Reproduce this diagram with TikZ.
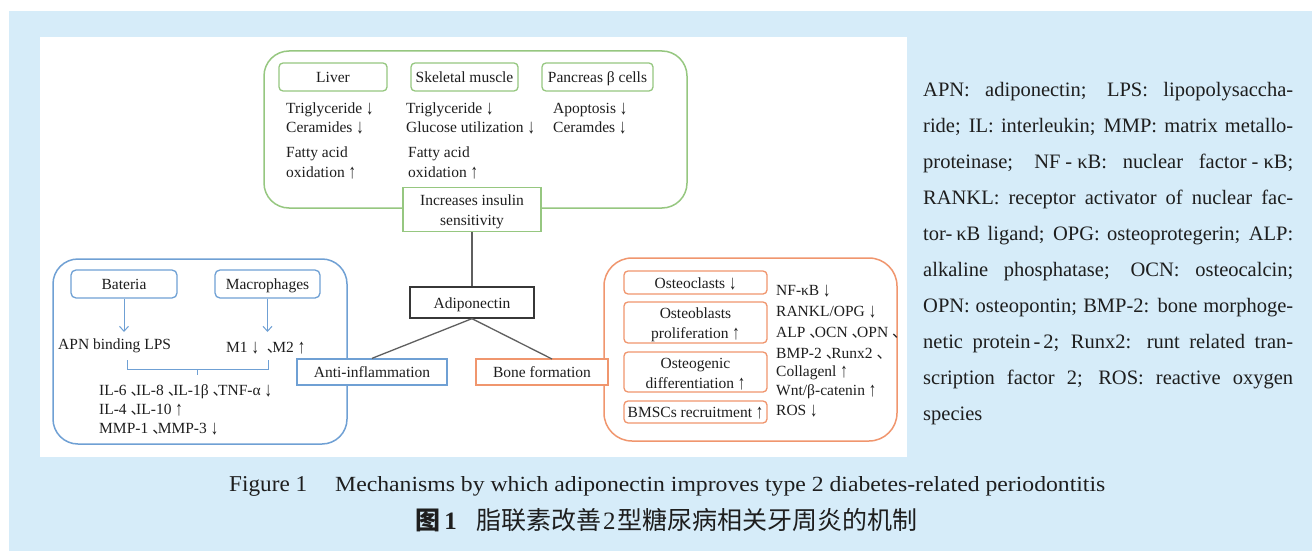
\documentclass[tikz,border=0pt]{standalone}
\usepackage{fontspec}
\setmainfont{Liberation Serif}
\newfontfamily\cjkf{Noto Sans CJK SC}
\usetikzlibrary{arrows.meta}
\definecolor{bgblue}{RGB}{214,236,249}
\definecolor{grn}{RGB}{150,199,128}
\definecolor{blu}{RGB}{111,160,212}
\definecolor{org}{RGB}{240,150,110}
\definecolor{dkc}{RGB}{55,55,55}
\definecolor{lnc}{RGB}{95,95,95}
\definecolor{txc}{RGB}{30,30,30}
\newcommand{\dfnt}{\fontsize{15.5}{20}\selectfont}
\newcommand{\dunh}{\hspace{4pt}{\cjkf 、}\hspace{-10pt}}
\newcommand{\dna}{\raisebox{-1pt}{\scalebox{0.95}[1.3]{↓}}}
\newcommand{\upa}{\raisebox{-1pt}{\scalebox{0.95}[1.3]{↑}}}
\tikzset{
  txt/.style={font=\dfnt, inner sep=0pt, anchor=west, text height=12.5pt, text depth=1.5pt, text=txc},
  boxbase/.style={line width=1.3pt, fill=white, inner sep=0pt, font=\dfnt, text=txc, align=center},
  oneline/.style={text height=12.5pt, text depth=1.5pt},
  twoline/.style={text height=32.5pt, text depth=0pt},
  boxg/.style={boxbase, draw=grn},
  boxb/.style={boxbase, draw=blu},
  boxo/.style={boxbase, draw=org},
  boxk/.style={boxbase, draw=dkc},
  conn/.style={draw=lnc, line width=1.3pt},
  barrow/.style={draw=blu, line width=1pt, -{Straight Barb[length=5pt,width=9pt]}},
  para/.style={font=\fontsize{20.5}{24}\selectfont, inner sep=0pt, anchor=base west, text=txc},
}
\begin{document}
\begin{tikzpicture}[x=1pt,y=-1pt]
\useasboundingbox (0,0) rectangle (1312,551);
\fill[bgblue] (9,11) rectangle (1312,551);
\fill[white] (40,37) rectangle (907,457);

% big group boxes
\draw[grn, line width=1.5pt, rounded corners=25pt] (264,51) rectangle (687,208);
\draw[blu, line width=1.5pt, rounded corners=25pt] (53,259) rectangle (347,444);
\draw[org, line width=1.5pt, rounded corners=28pt] (604,258) rectangle (897,441);

% top group
\node[boxg, oneline, rounded corners=4pt, minimum width=108pt, minimum height=28pt] (liver) at (333,77) {Liver};
\node[boxg, oneline, rounded corners=4pt, minimum width=107pt, minimum height=28pt] (skm) at (464.5,77) {Skeletal muscle};
\node[boxg, oneline, rounded corners=4pt, minimum width=111pt, minimum height=28pt] (pan) at (597.5,77) {Pancreas β cells};

\node[txt] (l1) at (286,108) {Triglyceride \dna};
\node[txt] (l2) at (286,127) {Ceramides \dna};
\node[txt] (l3) at (286,152) {Fatty acid};
\node[txt] (l4) at (286,172) {oxidation \upa};
\node[txt] (s1) at (406,108) {Triglyceride \dna};
\node[txt] (s2) at (406,127) {Glucose utilization \dna};
\node[txt] (s3) at (408,152) {Fatty acid};
\node[txt] (s4) at (408,172) {oxidation \upa};
\node[txt] (p1) at (553,108) {Apoptosis \dna};
\node[txt] (p2) at (553,127) {Ceramdes \dna};

\node[boxg, twoline, minimum width=138pt, minimum height=44pt] (ins) at (472,209.5) {\baselineskip=20pt Increases insulin\\sensitivity};

% centre
\node[boxk, oneline, minimum width=124pt, minimum height=31pt] (adipo) at (472,302.5) {Adiponectin};
\node[boxb, oneline, minimum width=150pt, minimum height=26pt] (anti) at (372,372) {Anti-inflammation};
\node[boxo, oneline, minimum width=132pt, minimum height=26pt] (bone) at (542,372) {Bone formation};
\coordinate (bonetop) at (552,359);
\draw[conn] (ins.south) -- (adipo.north);
\draw[conn] (adipo.south) -- (anti.north);
\draw[conn] (adipo.south) -- (bonetop);

% left group
\node[boxb, oneline, rounded corners=5pt, minimum width=106pt, minimum height=28pt] (bat) at (124,284) {Bateria};
\node[boxb, oneline, rounded corners=5pt, minimum width=105pt, minimum height=28pt] (mac) at (267.5,284) {Macrophages};
\coordinate (batend) at (124,332);
\coordinate (macend) at (267.5,332);
\draw[barrow] (bat.south) -- (batend);
\draw[barrow] (mac.south) -- (macend);
\node[txt] (apn) at (58,344) {APN binding LPS};
\node[txt] (m12) at (226,347) {M1 \dna\ \dunh M2 \upa};
\draw[blu, line width=1pt] (127,360) -- (127,369) -- (268,369) -- (268,360);
\draw[blu, line width=1pt] (197,369) -- (197,375);
\node[txt] (il1) at (99,390) {IL-6\dunh IL-8\dunh IL-1β\dunh TNF-α \dna};
\node[txt] (il2) at (99,409) {IL-4\dunh IL-10 \upa};
\node[txt] (mmp) at (99,428) {MMP-1\dunh MMP-3 \dna};

% right group
\node[boxo, oneline, rounded corners=4pt, minimum width=143pt, minimum height=23pt] (ocl) at (695.5,282.5) {Osteoclasts \dna};
\node[boxo, twoline, rounded corners=4pt, minimum width=143pt, minimum height=41pt] (obl) at (695.5,322.5) {\baselineskip=20pt Osteoblasts\\proliferation \upa};
\node[boxo, twoline, rounded corners=4pt, minimum width=143pt, minimum height=40pt] (ogd) at (695.5,372) {\baselineskip=20pt Osteogenic\\differentiation \upa};
\node[boxo, oneline, rounded corners=4pt, minimum width=143pt, minimum height=22pt] (bms) at (695.5,412) {BMSCs recruitment \upa};
\node[txt] (r1) at (776,290) {NF-κB \dna};
\node[txt] (r2) at (776,311) {RANKL/OPG \dna};
\node[txt] (r3) at (776,332) {ALP\dunh OCN\dunh OPN\dunh};
\node[txt] (r4) at (776,353) {BMP-2\dunh Runx2\dunh};
\node[txt] (r5) at (776,371) {Collagenl \upa};
\node[txt] (r6) at (776,390) {Wnt/β-catenin \upa};
\node[txt] (r7) at (776,410) {ROS \dna};

% abbreviations paragraph
\node[para] (g1) at (923,96) {\makebox[370pt][s]{APN: adiponectin; LPS: lipopolysaccha-}};
\node[para] (g2) at (923,132) {\makebox[370pt][s]{ride; IL: interleukin; MMP: matrix metallo-}};
\node[para] (g3) at (923,168) {\makebox[370pt][s]{proteinase; NF\hspace{5pt}-\hspace{5pt}κB: nuclear factor\hspace{5pt}-\hspace{5pt}κB;}};
\node[para] (g4) at (923,204) {\makebox[370pt][s]{RANKL: receptor activator of nuclear fac-}};
\node[para] (g5) at (923,240) {\makebox[370pt][s]{tor-\hspace{4pt}κB ligand; OPG: osteoprotegerin; ALP:}};
\node[para] (g6) at (923,276) {\makebox[370pt][s]{alkaline phosphatase; OCN: osteocalcin;}};
\node[para] (g7) at (923,312) {\makebox[370pt][s]{OPN: osteopontin; BMP-2: bone morphoge-}};
\node[para] (g8) at (923,348) {\makebox[370pt][s]{netic protein\hspace{3pt}-\hspace{3pt}2; Runx2: runt related tran-}};
\node[para] (g9) at (923,384) {\makebox[370pt][s]{scription factor 2; ROS: reactive oxygen}};
\node[para] (g10) at (923,420) {species};

% caption
\node[inner sep=0pt, anchor=base west, text=txc] (cap1) at (229,491) {\resizebox{78pt}{15pt}{Figure 1}};
\node[inner sep=0pt, anchor=base west, text=txc] (cap2) at (335,491) {\resizebox{770pt}{15pt}{Mechanisms by which adiponectin improves type 2 diabetes-related periodontitis}};
\node[inner sep=0pt, anchor=base west, text=txc, font=\fontsize{25}{28}\selectfont] (cap3) at (415,529) {{\cjkf\bfseries 图}\,\textbf{1}};
\node[inner sep=0pt, anchor=base west, text=txc, font=\fontsize{25}{28}\selectfont] (cap4) at (476,529) {{\cjkf 脂联素改善}\hspace{2pt}2\hspace{2pt}{\cjkf 型糖尿病相关牙周炎的机制}};
\end{tikzpicture}
\end{document}
